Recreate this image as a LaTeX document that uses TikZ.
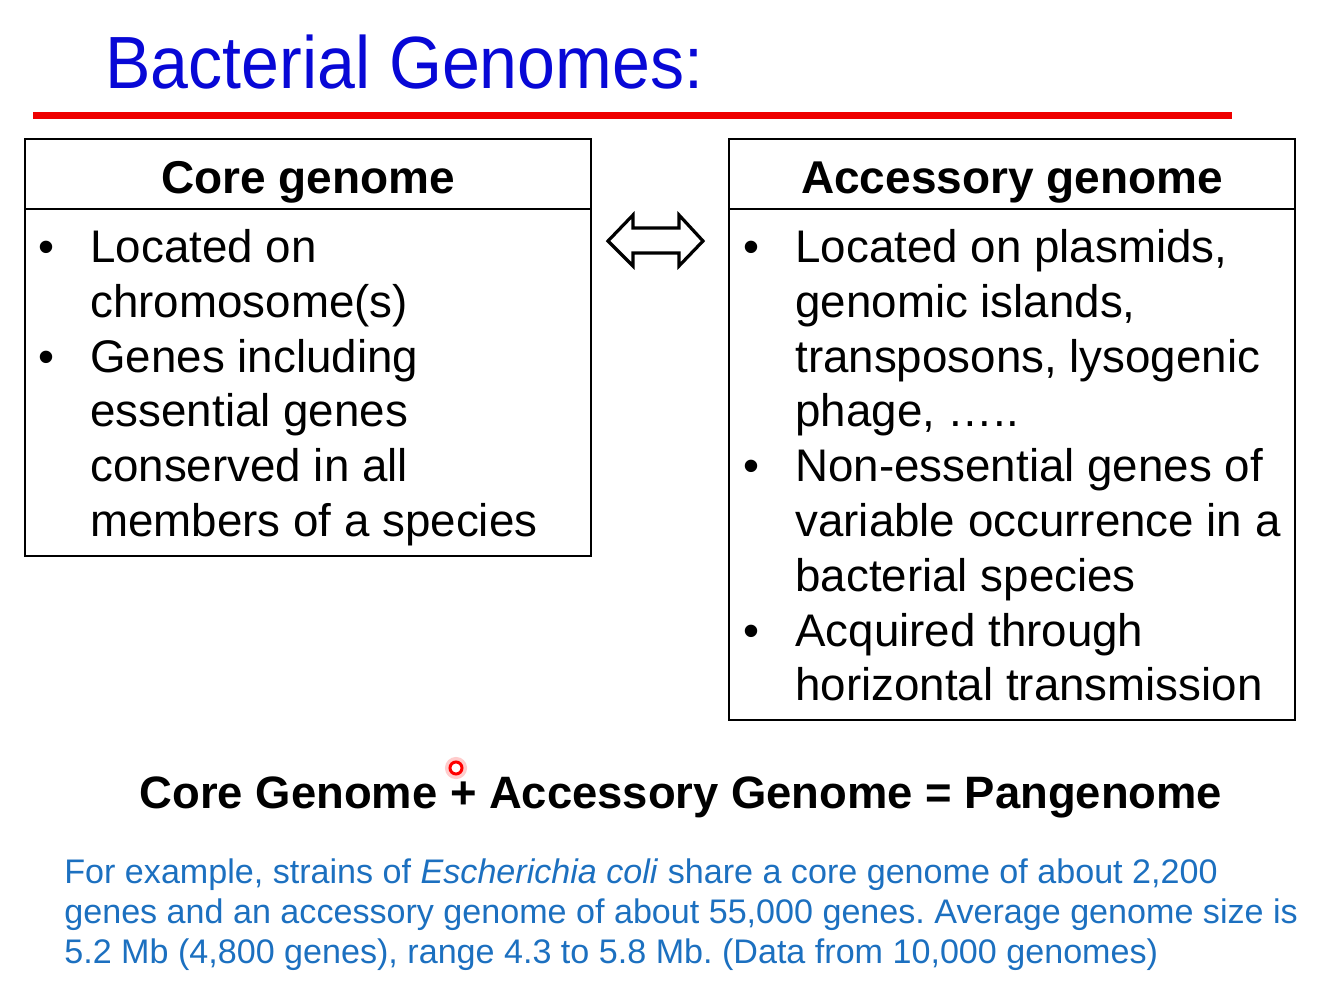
\documentclass[tikz,border=0pt]{standalone}
\usepackage{fontspec}
\setmainfont{Liberation Sans}
\usepackage{graphicx}
\usepackage{tikz}
\usetikzlibrary{positioning}
\definecolor{titleBlue}{RGB}{8,8,214}
\definecolor{noteBlue}{RGB}{28,112,192}
\definecolor{ruleRed}{RGB}{238,0,0}
\newcommand{\itembullet}{\rule{0pt}{17pt}\llap{\textbullet\hspace{18pt}}}
\frenchspacing
\tikzset{
  titletext/.style={anchor=base west, inner sep=0pt, text=titleBlue, font=\fontsize{37}{40}\selectfont},
  redrule/.style={draw=ruleRed, line width=3.5pt},
  headbox/.style={draw, line width=1pt, outer sep=0pt, inner sep=0pt, minimum width=283pt, minimum height=35pt, text height=19pt, text depth=0pt, font=\fontsize{23}{27}\selectfont\bfseries},
  bodybox/.style={draw, line width=1pt, outer sep=0pt, inner sep=0pt, minimum width=283pt},
  bodytext/.style={anchor=north west, align=left, inner sep=0pt, font=\fontsize{22.85}{27.4}\selectfont},
  swaparrow/.style={draw, line width=1.6pt, line join=miter, fill=white},
  eqtext/.style={anchor=base, inner sep=0pt, font=\fontsize{22.7}{27}\selectfont\bfseries},
  pointer/.style={circle, draw=red, line width=1.5pt, minimum size=6pt, inner sep=0pt, fill=white, preaction={draw=red!20, line width=5pt}},
  notetext/.style={anchor=north west, align=left, inner sep=0pt, text=noteBlue, font=\fontsize{17.05}{20}\selectfont}
}

\begin{document}
\begin{tikzpicture}[x=0.5pt, y=-0.5pt]
  \useasboundingbox[fill=white] (0,0) rectangle (1334,1007);
  % title
  \node[titletext] (title) at (105,88) {\scalebox{0.92}[1]{Bacterial Genomes:}};
  \draw[redrule] (33,115) -- (1232,115);

  % core genome box
  \node[headbox] (corehead) at (308,174) {Core genome};
  \node[bodybox, minimum height=173.5pt, below=0pt of corehead] (corebody) {};
  \node[bodytext] (coretext) at (90,228) {\itembullet Located on\\chromosome(s)\\\itembullet Genes including\\essential genes\\conserved in all\\members of a species};

  % accessory genome box
  \node[headbox] (acchead) at (1012,174) {Accessory genome};
  \node[bodybox, minimum height=255.5pt, below=0pt of acchead] (accbody) {};
  \node[bodytext] (acctext) at (795,228) {\itembullet Located on plasmids,\\genomic islands,\\transposons, lysogenic\\phage, \dots..\\\itembullet Non-essential genes of\\variable occurrence in a\\bacterial species\\\itembullet Acquired through\\horizontal transmission};

  % double arrow between the boxes
  \draw[swaparrow] (608,241) -- (633,215) -- (633,228) -- (679,228) -- (679,215)
    -- (703,241) -- (679,266) -- (679,253) -- (633,253) -- (633,266) -- cycle;

  % sum line
  \node[eqtext] (pangenome) at (681,808) {Core Genome + Accessory Genome = Pangenome};
  \node[pointer] (laser) at (456,768) {};

  % example note
  \node[notetext] (example) at (64,855) {\rule{0pt}{14pt}For example, strains of \textit{Escherichia coli} share a core genome of about 2,200\\genes and an accessory genome of about 55,000 genes. Average genome size is\\5.2 Mb (4,800 genes), range 4.3 to 5.8 Mb. (Data from 10,000 genomes)};
\end{tikzpicture}
\end{document}
